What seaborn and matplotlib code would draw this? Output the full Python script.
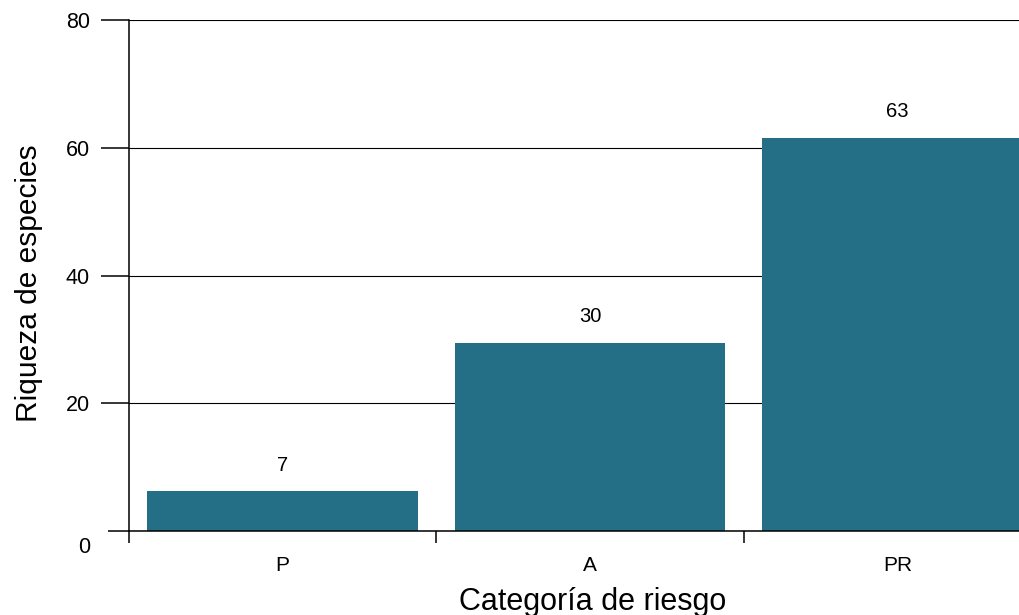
import matplotlib
matplotlib.use("Agg")
import matplotlib.pyplot as plt
import seaborn as sns
import pandas as pd
from matplotlib.transforms import ScaledTranslation

categories = ["P", "A", "PR"]
heights = [6.2, 29.4, 61.5]
value_labels = ["7", "30", "63"]
y_ticks = [0, 20, 40, 60, 80]

sns.set_theme(style="white")
plt.rcParams["font.family"] = ["Liberation Sans", "DejaVu Sans"]

fig = plt.figure(figsize=(10.2, 6.15), dpi=100)
ax = fig.add_axes([129 / 1020, 84 / 615, 922 / 1020, 511 / 615])

df = pd.DataFrame({"cat": categories, "h": heights})
sns.barplot(data=df, x="cat", y="h", color="#246f86", saturation=1,
            width=0.88, linewidth=0, ax=ax, zorder=3)

ax.set_xlim(-0.5, 2.5)
ax.set_ylim(0, 80)

# x axis: tick marks at category boundaries, labels at centres
ax.set_xticks([-0.5, 0.5, 1.5, 2.5])
ax.set_xticklabels([])
ax.set_xticks([0, 1, 2], minor=True)
ax.set_xticklabels(categories, minor=True)
ax.tick_params(axis="x", which="major", direction="out", length=8.6,
               width=1.1, color="black", bottom=True)
ax.tick_params(axis="x", which="minor", length=0, pad=18, labelsize=15,
               labelcolor="black", bottom=True)

# y axis
ax.set_yticks(y_ticks)
ax.set_yticklabels([str(v) for v in y_ticks])
ax.tick_params(axis="y", direction="out", length=20, width=1.1, pad=8,
               labelsize=15.5, color="black", labelcolor="black", left=True)
ax.set_axisbelow(True)
ax.yaxis.grid(True, color="black", linewidth=0.8)
ax.xaxis.grid(False)

for side in ["top", "right"]:
    ax.spines[side].set_visible(False)
for side in ["left", "bottom"]:
    ax.spines[side].set_visible(True)
    ax.spines[side].set_color("black")
    ax.spines[side].set_linewidth(1.1)
ax.spines["bottom"].set_zorder(4)

# value labels above bars
for i, (h, lab) in enumerate(zip(heights, value_labels)):
    ax.annotate(lab, (i, h), xytext=(0, 19), textcoords="offset points",
                ha="center", va="center", fontsize=14.5, color="black")

ax.set_xlabel("Categoría de riesgo", fontsize=22, color="black")
ax.xaxis.set_label_coords(0.503, -0.1546)
ax.xaxis.label.set_verticalalignment("baseline")
ax.set_ylabel("Riqueza de especies", fontsize=21.5, color="black")
ax.yaxis.set_label_coords(-0.108, 0.485)
ax.yaxis.label.set_verticalalignment("center")

# zero tick: shorter mark, label lowered
t0 = ax.yaxis.get_major_ticks()[0]
t0.tick1line.set_markersize(15)
t0.label1.set_transform(t0.label1.get_transform() +
                        ScaledTranslation(0, -14 / 100, fig.dpi_scale_trans))

fig.savefig("out.png", dpi=100)
